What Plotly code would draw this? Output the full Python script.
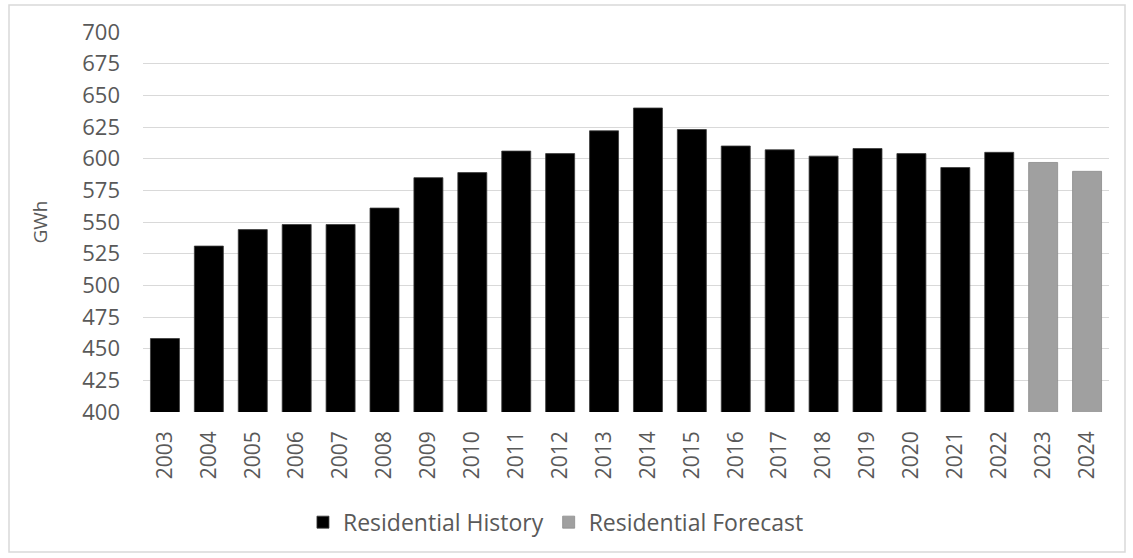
import plotly.graph_objects as go

# Residential energy sales (GWh)
history_years = [str(y) for y in range(2003, 2023)]
history_gwh = [458, 531, 544, 548, 548, 561, 585, 589, 606, 604,
               622, 640, 623, 610, 607, 602, 608, 604, 593, 605]

forecast_years = ["2023", "2024"]
forecast_gwh = [597, 590]

y_ticks = list(range(400, 701, 25))

font_family = "'Open Sans', sans-serif"
text_color = "#595959"

fig = go.Figure()
fig.add_trace(go.Bar(
    x=history_years, y=history_gwh, name="Residential History",
    marker=dict(color="#000000", line=dict(color="#3a3a3a", width=0.8)),
))
fig.add_trace(go.Bar(
    x=forecast_years, y=forecast_gwh, name="Residential Forecast",
    marker=dict(color="#a0a0a0", line=dict(color="#8c8c8c", width=0.8)),
))

fig.update_layout(
    width=1133, height=558,
    margin=dict(l=143, r=24, t=32, b=146),
    paper_bgcolor="white", plot_bgcolor="white",
    barmode="overlay", bargap=0.34,
    font=dict(family=font_family, color=text_color, size=21),
    showlegend=True,
    legend=dict(
        orientation="h", x=0.4275, xanchor="center", y=-0.29, yanchor="middle",
        font=dict(size=23, color=text_color), itemwidth=30,
        traceorder="normal",
    ),
    xaxis=dict(
        type="category", tickangle=-90, showgrid=False, zeroline=False,
        showline=False, ticks="", tickfont=dict(size=21, color=text_color),
        ticklabelstandoff=14,
    ),
    yaxis=dict(
        range=[400, 700], tickvals=y_ticks, showgrid=True, gridcolor="#d9d9d9",
        gridwidth=1, zeroline=False, showline=False, ticks="",
        tickfont=dict(size=22, color=text_color), ticklabelstandoff=22,
        title=dict(text="GWh", font=dict(size=19, color=text_color), standoff=29),
    ),
    shapes=[
        # outer chart frame
        dict(type="rect", xref="paper", yref="paper",
             x0=-134 / 966, x1=1 + 16 / 966, y0=-140 / 380, y1=1 + 27 / 380,
             line=dict(color="#d9d9d9", width=1.5), fillcolor="rgba(0,0,0,0)",
             layer="below"),
    ],
)

fig.write_html("out.html")
